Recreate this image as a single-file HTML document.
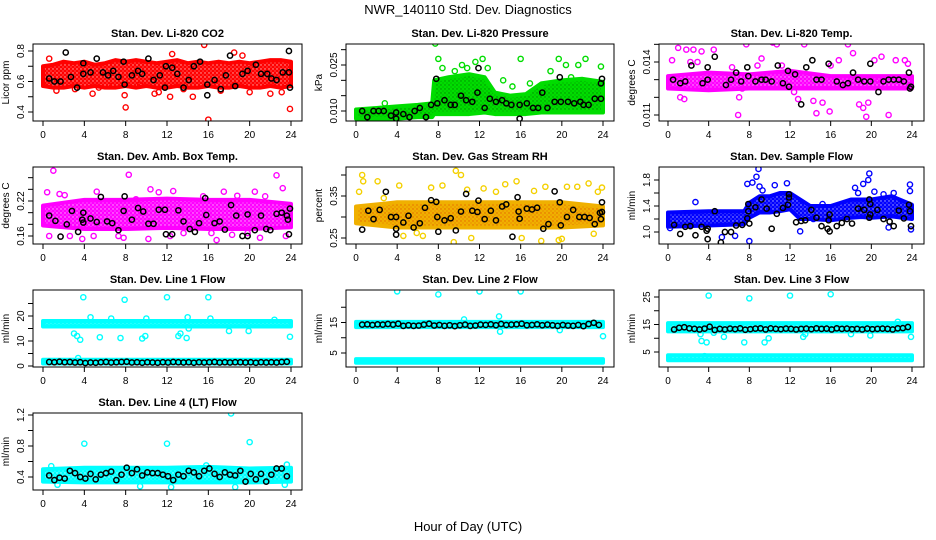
<!DOCTYPE html>
<html><head><meta charset="utf-8"><style>
body{margin:0;background:#fff}
svg{display:block;font-family:"Liberation Sans",sans-serif}
</style></head><body>
<svg id="chart" width="936" height="540" viewBox="0 0 936 540" xmlns="http://www.w3.org/2000/svg">
<rect width="936" height="540" fill="#fff"/>
<text x="468" y="14" font-size="13" text-anchor="middle">NWR_140110  Std. Dev. Diagnostics</text>
<text x="468" y="531" font-size="13" text-anchor="middle">Hour of Day (UTC)</text>
</svg>
<script>
// ---- CO2 ----
const co2BandX=[0,1,2,3,4,5,6,7,8,9,10,11,12,13,14,15,16,17,18,19,20,21,22,23,24];
const co2BandLo=[0.57,0.56,0.56,0.57,0.56,0.57,0.56,0.56,0.57,0.56,0.57,0.56,0.56,0.57,0.56,0.56,0.57,0.56,0.56,0.57,0.56,0.56,0.57,0.56,0.57];
const co2BandHi=[0.70,0.71,0.73,0.72,0.73,0.71,0.72,0.74,0.73,0.74,0.73,0.72,0.73,0.74,0.72,0.73,0.72,0.73,0.72,0.73,0.72,0.73,0.74,0.74,0.73];
const co2PtX=[0.6,1.3,3.1,4.8,5.4,7.9,8.0,9.4,10.8,12.3,12.5,13.6,14.5,15.6,16.0,17.2,18.5,19.3,20.0,22.0,23.1,23.9,11.2,6.7];
const co2PtY=[0.75,0.54,0.55,0.52,0.56,0.51,0.43,0.58,0.52,0.50,0.78,0.55,0.50,0.84,0.35,0.54,0.79,0.77,0.53,0.52,0.53,0.42,0.53,0.57];
const co2BlkX=[0.6,1.1,1.7,2.2,2.7,3.3,3.9,3.9,4.6,5.2,5.8,6.3,6.8,7.3,7.8,7.9,8.6,9.2,9.6,10.2,10.7,11.3,11.8,11.9,12.5,13.0,13.6,14.1,14.6,15.2,15.9,15.9,16.6,17.2,17.7,18.1,18.6,19.3,19.8,20.6,21.1,21.7,22.1,22.6,23.2,23.8,23.8,23.9];
const co2BlkY=[0.62,0.60,0.60,0.79,0.63,0.56,0.72,0.65,0.66,0.75,0.66,0.64,0.67,0.63,0.73,0.58,0.64,0.67,0.65,0.75,0.61,0.64,0.56,0.70,0.69,0.65,0.56,0.61,0.70,0.73,0.58,0.51,0.61,0.55,0.64,0.77,0.57,0.65,0.67,0.71,0.65,0.65,0.62,0.61,0.66,0.80,0.66,0.56];
// ---- Pressure ----
const prsBandX=[0,2,4,6,7.4,7.6,9,11,12.5,13.5,15,16.5,18,20,22,24];
const prsBandLo=[0.0075,0.0075,0.0075,0.008,0.008,0.009,0.009,0.009,0.0095,0.009,0.009,0.009,0.0095,0.0095,0.0095,0.0095];
const prsBandHi=[0.0105,0.011,0.0115,0.012,0.0125,0.02,0.021,0.022,0.021,0.016,0.015,0.0155,0.019,0.02,0.0205,0.0195];
const prsPtX=[2.8,7.7,8.0,8.4,9.6,10.3,10.8,11.6,12.3,12.8,14.3,15.2,16.0,16.9,17.9,19.7,20.4,21.6,22.3,23.8,20.9,18.9];
const prsPtY=[0.0125,0.032,0.027,0.024,0.023,0.025,0.024,0.026,0.027,0.024,0.020,0.018,0.027,0.019,0.018,0.027,0.025,0.025,0.027,0.0245,0.021,0.023];
const prsBlkX=[0.6,1.1,1.7,2.2,2.7,3.4,3.9,3.9,4.6,5.2,5.7,6.2,6.8,7.3,7.8,7.9,8.6,9.2,9.6,10.2,10.7,11.3,11.8,11.9,12.5,13.0,13.6,14.2,14.6,15.1,15.9,15.9,16.6,17.2,17.7,18.1,18.6,19.3,19.8,19.9,20.6,21.2,21.8,22.1,22.6,23.2,23.8,23.8,23.9];
const prsBlkY=[0.010,0.008,0.010,0.010,0.010,0.0085,0.0095,0.0075,0.009,0.008,0.010,0.011,0.008,0.012,0.0205,0.0125,0.0135,0.012,0.012,0.015,0.0135,0.013,0.016,0.024,0.011,0.014,0.013,0.0135,0.0125,0.012,0.012,0.0075,0.0125,0.011,0.011,0.016,0.011,0.013,0.021,0.013,0.013,0.0125,0.013,0.012,0.012,0.014,0.019,0.014,0.0205];
// ---- Li-820 Temp ----
const tmpBandX=[0,4,8,12,16,20,24];
const tmpBandLo=[0.0125,0.0124,0.0125,0.0125,0.0125,0.0125,0.0125];
const tmpBandHi=[0.0132,0.0134,0.0133,0.0135,0.0132,0.0132,0.0132];
const tmpPtX=[0.4,0.7,1.0,1.2,1.6,1.8,2.5,2.2,3.3,3.8,4.5,5.8,6.3,6.9,7.0,7.7,7.3,9.2,10.3,10.7,11.2,12.0,12.4,12.8,13.4,14.3,14.6,15.2,15.9,16.8,17.7,18.2,18.8,19.2,19.5,19.7,20.3,21.0,21.7,22.4,23.3,23.6,2.9,8.8,16.0,20.7];
const tmpPtY=[0.0141,0.0155,0.0148,0.0120,0.0119,0.0147,0.0147,0.0140,0.0146,0.0126,0.0147,0.0157,0.0137,0.0110,0.0120,0.0150,0.0125,0.0142,0.0151,0.0150,0.0138,0.0155,0.0123,0.0119,0.0150,0.0118,0.0111,0.0117,0.0112,0.0141,0.0150,0.0145,0.0116,0.0114,0.0109,0.0117,0.0141,0.0143,0.0110,0.0141,0.0141,0.0139,0.0140,0.0138,0.0138,0.0130];
const tmpBlkX=[0.5,1.2,1.7,2.3,3.4,3.9,3.9,4.6,5.2,5.7,6.2,6.7,7.2,7.8,7.9,8.6,9.2,9.6,10.2,10.8,11.3,11.8,11.9,12.5,13.1,13.6,14.2,14.6,15.1,15.8,16.6,17.2,17.7,18.2,18.7,19.3,19.9,19.9,20.7,21.2,21.7,22.2,22.7,23.2,23.7,23.8,23.9];
const tmpBlkY=[0.0130,0.0128,0.0129,0.0138,0.0128,0.0137,0.0130,0.0143,0.0159,0.0127,0.0130,0.0134,0.0129,0.0137,0.0132,0.0129,0.0130,0.0130,0.0129,0.0138,0.0128,0.0135,0.0126,0.0133,0.0116,0.0137,0.0141,0.0130,0.0130,0.0139,0.0129,0.0127,0.0128,0.0134,0.0130,0.0129,0.0139,0.0129,0.0123,0.0129,0.0130,0.0130,0.0130,0.0129,0.0134,0.0125,0.0126];
// ---- Amb Box Temp ----
const ambBandX=[0,4,8,12,16,20,24];
const ambBandLo=[0.178,0.172,0.172,0.174,0.172,0.172,0.175];
const ambBandHi=[0.212,0.222,0.222,0.224,0.222,0.222,0.215];
const ambPtX=[0.4,1.0,0.6,1.6,2.1,2.6,3.8,4.9,5.2,7.3,7.8,8.3,9.0,10.2,10.4,11.2,12.3,12.6,13.6,15.5,16.3,16.8,17.5,18.3,18.8,19.8,20.5,21.0,21.5,22.6,23.2,23.5];
const ambPtY=[0.235,0.272,0.160,0.232,0.230,0.160,0.155,0.160,0.236,0.160,0.157,0.265,0.223,0.155,0.240,0.235,0.160,0.237,0.165,0.228,0.165,0.153,0.236,0.162,0.229,0.165,0.236,0.157,0.228,0.264,0.242,0.160];
const ambBlkX=[0.6,1.2,1.7,2.3,2.8,3.4,3.8,3.9,3.9,4.6,5.2,5.6,6.2,6.7,7.3,7.8,7.9,8.6,9.2,9.7,10.2,10.7,11.2,11.8,11.9,12.5,13.1,13.6,14.2,14.7,15.1,15.7,15.8,16.6,17.1,17.6,18.2,18.7,19.3,19.8,19.8,20.5,21.1,21.6,22.0,22.6,23.1,23.6,23.7,23.8,23.9];
const ambBlkY=[0.195,0.186,0.159,0.180,0.203,0.167,0.188,0.200,0.183,0.190,0.184,0.227,0.185,0.182,0.170,0.203,0.228,0.188,0.208,0.202,0.181,0.181,0.205,0.205,0.163,0.163,0.204,0.185,0.172,0.167,0.182,0.225,0.196,0.182,0.185,0.171,0.213,0.195,0.160,0.160,0.197,0.170,0.195,0.172,0.170,0.198,0.200,0.195,0.188,0.163,0.207];
// ---- Gas Stream RH ----
const rhBandX=[0,4,8,12,16,20,24];
const rhBandLo=[0.285,0.275,0.275,0.275,0.275,0.275,0.280];
const rhBandHi=[0.325,0.335,0.335,0.335,0.335,0.335,0.325];
const rhPtX=[0.3,0.6,0.7,2.1,4.2,4.6,6.5,7.3,8.4,9.5,9.7,10.2,11.2,12.4,13.6,14.5,15.6,16.1,17.3,18.0,18.4,19.7,20.0,20.5,21.5,22.6,23.1,23.5,23.9,2.7,10.8,5.9];
const rhPtY=[0.360,0.400,0.385,0.385,0.375,0.255,0.255,0.370,0.375,0.240,0.410,0.400,0.250,0.368,0.360,0.378,0.385,0.250,0.362,0.243,0.372,0.245,0.248,0.372,0.372,0.380,0.260,0.360,0.370,0.345,0.365,0.262];
const rhBlkX=[0.6,1.2,1.7,2.3,2.9,3.4,3.9,3.9,3.9,4.6,5.1,5.6,6.2,6.7,7.3,7.8,7.9,8.0,8.6,9.2,9.7,10.2,10.7,11.3,11.8,11.9,12.5,13.1,13.6,14.2,14.6,15.2,15.7,15.8,15.9,16.6,17.1,17.6,18.2,18.7,19.3,19.8,19.9,20.5,21.1,21.7,22.2,22.7,23.2,23.7,23.8,23.9,23.9];
const rhBlkY=[0.270,0.315,0.295,0.317,0.360,0.300,0.272,0.258,0.300,0.287,0.303,0.275,0.285,0.322,0.340,0.336,0.300,0.265,0.292,0.297,0.268,0.313,0.355,0.315,0.312,0.339,0.295,0.315,0.292,0.325,0.330,0.253,0.347,0.313,0.296,0.320,0.318,0.322,0.272,0.283,0.361,0.335,0.280,0.300,0.317,0.300,0.300,0.298,0.283,0.310,0.295,0.335,0.312];
// ---- Sample Flow ----
const sfBandX=[0,4,7.5,8,9,10,11,12,13,14,16,17,18,19,20,22,24];
const sfBandLo=[1.08,1.1,1.12,1.22,1.3,1.3,1.32,1.35,1.2,1.2,1.18,1.2,1.22,1.23,1.22,1.24,1.2];
const sfBandHi=[1.3,1.32,1.32,1.45,1.55,1.55,1.6,1.6,1.5,1.4,1.4,1.45,1.5,1.5,1.5,1.55,1.42];
const sfPtX=[2.7,6.6,8.0,7.8,8.3,8.7,8.9,9.0,9.3,10.5,11.7,13.0,14.3,15.2,18.4,18.7,19.2,19.7,19.8,20.3,21.2,21.7,22.2,23.8,23.8,23.9,0.2,5.3];
const sfPtY=[1.46,0.94,0.86,1.74,1.76,1.85,1.97,1.70,1.64,1.72,1.75,1.01,1.2,1.43,1.68,1.6,1.74,1.80,1.90,1.62,1.58,1.07,1.60,1.73,1.63,1.04,1.06,0.92];
const sfBlkX=[0.6,1.2,1.7,2.2,2.7,3.3,3.8,3.9,3.9,4.6,5.2,5.6,6.2,6.7,7.3,7.8,7.9,7.9,8.0,8.6,9.2,9.7,10.2,10.7,11.3,11.8,11.9,11.9,12.6,13.1,13.5,14.1,14.6,15.1,15.7,15.8,15.9,15.9,16.6,17.1,17.6,18.1,18.7,19.3,19.8,19.9,19.9,19.8,20.6,21.2,21.8,22.2,22.7,23.2,23.7,23.8,23.9];
const sfBlkY=[1.11,0.97,1.08,1.09,0.95,1.08,1.02,0.89,1.05,1.32,0.84,1.00,1.00,1.10,1.11,1.21,1.43,1.32,1.13,1.38,1.50,1.36,1.05,1.28,1.37,1.42,1.58,1.53,1.15,1.17,1.18,1.34,1.22,1.09,1.05,1.18,1.27,1.01,1.09,1.14,1.20,1.13,1.36,1.34,1.50,1.43,1.27,1.22,1.34,1.20,1.16,1.09,1.33,1.21,1.42,1.32,1.09];
// ---- Line flows ----
const l1BandX=[0,24], l1BandLo=[15.8,15.8], l1BandHi=[18,18], l1Band2Lo=[1,1], l1Band2Hi=[2.5,2.5];
const l1PtX=[3.9,4.6,7.9,12.0,16.0,3.0,3.3,3.6,5.5,7.5,9.6,9.9,13.1,13.3,13.9,14.1,18.0,19.9,23.9,6.6,10.0,14.0,16.2,22.4,3.4];
const l1PtY=[27.5,19.5,26.5,27.5,27.5,13,12,10.5,11.5,11.2,11,12,12,13,11.2,15,14,14,11.7,19,19,19.5,19,18.5,3.2];
const l1BlkX=[0.6,1.1,1.6,2.1,2.6,3.1,3.6,4.1,4.6,5.1,5.6,6.1,6.6,7.1,7.6,8.1,8.6,9.1,9.6,10.1,10.6,11.1,11.6,12.1,12.6,13.1,13.6,14.1,14.6,15.1,15.6,16.1,16.6,17.1,17.6,18.1,18.6,19.1,19.6,20.1,20.6,21.1,21.6,22.1,22.6,23.1,23.6];
const l1BlkY=[1.6,1.5,1.7,1.5,1.6,1.4,1.5,1.2,1.4,1.3,1.5,1.6,1.4,1.5,1.6,1.7,1.4,1.5,1.3,1.5,1.4,1.3,1.5,1.4,1.6,1.5,1.4,1.5,1.3,1.5,1.4,1.5,1.6,1.4,1.5,1.4,1.5,1.5,1.4,1.5,1.3,1.5,1.4,1.5,1.4,1.6,1.7];
const l2BandX=[0,24], l2BandLo=[13.5,13.5], l2BandHi=[15.2,15.2], l2Band2Lo=[1.8,1.8], l2Band2Hi=[3.0,3.0];
const l2PtX=[4.0,8.0,12.0,16.0,10.5,13.9,14.0,19.8,24.0];
const l2PtY=[25.2,24.2,25.2,25.2,16,17,12,12.5,10.5];
const l2BlkY=[14.3,14.4,14.2,14.4,14.3,14.5,14.3,14.6,13.9,14.1,13.9,14.0,14.3,14.6,14.0,14.2,13.9,14.1,13.8,14.1,14.3,13.9,14.0,14.3,14.2,14.4,14.1,14.5,14.2,14.3,14.4,14.6,14.1,14.2,14.4,14.1,14.3,14.1,13.9,14.2,14.0,13.9,14.2,13.8,14.5,14.9,14.2];
const l3BandX=[0,24], l3BandLo=[12.5,12.5], l3BandHi=[15.5,15.5], l3Band2Lo=[2.0,2.0], l3Band2Hi=[3.8,3.8];
const l3PtX=[4.0,8.0,12.0,16.0,3.2,3.3,3.8,5.5,7.5,9.5,9.9,13.3,13.5,18.0,19.9,22.6,23.9,3.6,4.5];
const l3PtY=[25.5,24.5,25.5,26,11.5,9,8.5,10.5,8.5,8.5,10,10.5,11.5,11.5,11,16,10.5,3.5,12];
const l3BlkY=[13.2,13.8,14.0,13.6,13.4,13.2,13.5,14.2,13.0,13.4,13.2,13.5,13.3,13.6,13.1,13.3,13.5,13.6,13.2,13.6,13.4,13.3,13.5,13.4,13.2,13.4,13.5,13.3,13.6,13.4,13.5,13.2,13.6,13.4,13.5,13.3,13.4,13.2,13.5,13.3,13.4,13.5,13.4,13.2,13.6,13.7,14.1];
const l4BandX=[0,4,8,12,16,20,24], l4BandLo=[0.34,0.33,0.33,0.33,0.33,0.33,0.34], l4BandHi=[0.50,0.52,0.52,0.52,0.53,0.51,0.52];
const l4PtX=[4.0,12.0,18.2,20.0,18.6,12.4,9.4,1.4,23.4,15.8,23.6,0.8];
const l4PtY=[0.83,0.83,1.22,0.85,0.27,0.27,0.28,0.30,0.30,0.55,0.56,0.54];
const l4BlkY=[0.42,0.36,0.39,0.38,0.48,0.45,0.40,0.38,0.44,0.37,0.43,0.45,0.47,0.36,0.43,0.52,0.45,0.50,0.42,0.46,0.45,0.45,0.43,0.41,0.36,0.43,0.41,0.48,0.46,0.41,0.48,0.51,0.44,0.40,0.46,0.43,0.42,0.48,0.34,0.44,0.37,0.44,0.34,0.43,0.51,0.51,0.41];
const xTicks=[0,4,8,12,16,20,24];

const NS='http://www.w3.org/2000/svg';
const svg=document.getElementById('chart');
function mk(tag,attrs,parent){const e=document.createElementNS(NS,tag);for(const k in attrs)e.setAttribute(k,attrs[k]);(parent||svg).appendChild(e);return e;}
const defs=mk('defs',{});
const cols=[{l:33,r:302,x0:43,x24:291},{l:346,r:614,x0:356,x24:603},{l:659,r:924,x0:668,x24:912}];
const rows=[44,167,290,413];
const panels=[
 {id:'co2',title:'Stan. Dev. Li-820 CO2',yl:'Licor ppm',r:0,c:0,v0:0.4,p0:112,v1:0.8,p1:51,ticks:[0.4,0.5,0.6,0.7,0.8],labels:['0.4','0.6','0.8'],col:'#ff0000',dot:'#ffffff',bx:co2BandX,lo:co2BandLo,hi:co2BandHi,px:co2PtX,py:co2PtY,kx:co2BlkX,ky:co2BlkY},
 {id:'pressure',title:'Stan. Dev. Li-820 Pressure',yl:'kPa',r:0,c:1,v0:0.010,p0:111,v1:0.025,p1:65,ticks:[0.010,0.015,0.020,0.025,0.030],labels:['0.010','0.025'],col:'#00dd00',dot:'#006600',bx:prsBandX,lo:prsBandLo,hi:prsBandHi,px:prsPtX,py:prsPtY,kx:prsBlkX,ky:prsBlkY},
 {id:'li820-temp',title:'Stan. Dev. Li-820 Temp.',yl:'degrees C',r:0,c:2,v0:0.011,p0:115,v1:0.014,p1:62,ticks:[0.011,0.012,0.013,0.014,0.015],labels:['0.011','0.014'],col:'#ff00ff',dot:'#ffffff',bx:tmpBandX,lo:tmpBandLo,hi:tmpBandHi,px:tmpPtX,py:tmpPtY,kx:tmpBlkX,ky:tmpBlkY},
 {id:'amb-temp',title:'Stan. Dev. Amb. Box Temp.',yl:'degrees C',r:1,c:0,v0:0.16,p0:236,v1:0.22,p1:201,ticks:[0.16,0.18,0.20,0.22,0.24,0.26],labels:['0.16','0.22'],col:'#ff00ff',dot:'#ffffff',bx:ambBandX,lo:ambBandLo,hi:ambBandHi,px:ambPtX,py:ambPtY,kx:ambBlkX,ky:ambBlkY},
 {id:'gas-rh',title:'Stan. Dev. Gas Stream RH',yl:'percent',r:1,c:1,v0:0.25,p0:238,v1:0.35,p1:196,ticks:[0.25,0.30,0.35,0.40],labels:['0.25','0.35'],col:'#f0b000',dot:'#e04000',pcol:'#f4d000',bx:rhBandX,lo:rhBandLo,hi:rhBandHi,px:rhPtX,py:rhPtY,kx:rhBlkX,ky:rhBlkY},
 {id:'sample-flow',title:'Stan. Dev. Sample Flow',yl:'ml/min',r:1,c:2,v0:1.0,p0:232,v1:1.8,p1:180,ticks:[1.0,1.2,1.4,1.6,1.8],labels:['1.0','1.4','1.8'],col:'#0000ff',dot:'#ffffff',bx:sfBandX,lo:sfBandLo,hi:sfBandHi,px:sfPtX,py:sfPtY,kx:sfBlkX,ky:sfBlkY},
 {id:'line1',title:'Stan. Dev. Line 1 Flow',yl:'ml/min',r:2,c:0,v0:0,p0:366,v1:20,p1:316,ticks:[0,5,10,15,20,25],labels:['0','10','20'],col:'#00ffff',dot:'#ffffff',bx:l1BandX,lo:l1BandLo,hi:l1BandHi,lo2:l1Band2Lo,hi2:l1Band2Hi,px:l1PtX,py:l1PtY,kx:l1BlkX,ky:l1BlkY},
 {id:'line2',title:'Stan. Dev. Line 2 Flow',yl:'ml/min',r:2,c:1,v0:5,p0:353,v1:15,p1:322.5,ticks:[5,10,15,20],labels:['5','15'],col:'#00ffff',dot:'#ffffff',bx:l2BandX,lo:l2BandLo,hi:l2BandHi,lo2:l2Band2Lo,hi2:l2Band2Hi,px:l2PtX,py:l2PtY,kx:l1BlkX,ky:l2BlkY},
 {id:'line3',title:'Stan. Dev. Line 3 Flow',yl:'ml/min',r:2,c:2,v0:5,p0:352,v1:25,p1:297,ticks:[5,10,15,20,25],labels:['5','15','25'],col:'#00ffff',dot:'#ffffff',bx:l3BandX,lo:l3BandLo,hi:l3BandHi,lo2:l3Band2Lo,hi2:l3Band2Hi,px:l3PtX,py:l3PtY,kx:l1BlkX,ky:l3BlkY},
 {id:'line4',title:'Stan. Dev. Line 4 (LT) Flow',yl:'ml/min',r:3,c:0,v0:0.4,p0:477,v1:1.2,p1:415,ticks:[0.4,0.6,0.8,1.0,1.2],labels:['0.4','0.8','1.2'],col:'#00ffff',dot:'#ffffff',bx:l4BandX,lo:l4BandLo,hi:l4BandHi,px:l4PtX,py:l4PtY,kx:l1BlkX,ky:l4BlkY}
];
panels.forEach(p=>{
  const pat=mk('pattern',{id:'pt-'+p.id,width:4,height:4,patternUnits:'userSpaceOnUse'},defs);
  mk('rect',{width:4,height:4,fill:p.col},pat);
  mk('circle',{cx:1,cy:1,r:0.7,fill:p.dot,'fill-opacity':'0.7'},pat);
  mk('circle',{cx:3,cy:3,r:0.6,fill:p.dot,'fill-opacity':'0.5'},pat);
  const C=cols[p.c], top=rows[p.r], bot=top+77;
  const xs=v=>C.x0+(v/24)*(C.x24-C.x0);
  const ys=v=>p.p0+(v-p.v0)*(p.p1-p.p0)/(p.v1-p.v0);
  const g=mk('g',{});
  
  
  const t=mk('text',{x:(C.l+C.r)/2,y:top-7,'font-size':'11','font-weight':'bold','text-anchor':'middle'},g);
  t.textContent=p.title;
  
  
  const clip=mk('clipPath',{id:'cl-'+p.id},g);
  mk('rect',{x:C.l,y:top,width:C.r-C.l,height:bot-top},clip);
  const pg=mk('g',{'clip-path':'url(#cl-'+p.id+')'},g);
  const bands=[[p.lo,p.hi]]; if(p.lo2) bands.push([p.lo2,p.hi2]);
  bands.forEach(([lo,hi])=>{
    let pts=p.bx.map((x,i)=>xs(x)+','+ys(hi[i]));
    pts=pts.concat(p.bx.map((x,i)=>xs(x)+','+ys(lo[i])).reverse());
    const b=mk('polygon',{points:pts.join(' '),fill:'url(#pt-'+p.id+')',stroke:p.col,'stroke-width':'4','stroke-linejoin':'round'},pg);
    
    
  });
  p.px.forEach((x,i)=>{
    const c=mk('circle',{cx:xs(x),cy:ys(p.py[i]),r:2.6,fill:'none',stroke:p.pcol||p.col,'stroke-width':'1.4'},pg);
    
    
  });
  p.kx.forEach((x,i)=>{
    const c=mk('circle',{cx:xs(x),cy:ys(p.ky[i]),r:2.6,fill:'none',stroke:'#000','stroke-width':'1.5'},pg);
    
    
  });
  const fr=mk('rect',{x:C.l,y:top,width:C.r-C.l,height:bot-top,fill:'none',stroke:'#000','stroke-width':'1'},g);
  
  
  xTicks.forEach(v=>{
    const x=xs(v);
    mk('line',{x1:x,x2:x,y1:bot,y2:bot+5,stroke:'#000'},g);
    const l=mk('text',{x:x,y:bot+17,'font-size':'10','text-anchor':'middle'},g);
    l.textContent=v;
    
    
  });
  p.ticks.forEach(v=>{
    const y=ys(v);
    mk('line',{x1:C.l-5,x2:C.l,y1:y,y2:y,stroke:'#000'},g);
    const lab=p.labels.find(s=>Math.abs(parseFloat(s)-v)<1e-9);
    if(lab){
      const l=mk('text',{x:C.l-9,y:y,'font-size':'10','text-anchor':'middle',transform:'rotate(-90 '+(C.l-9)+' '+y+')'},g);
      l.textContent=lab;
      
      
    }
  });
  const yl=mk('text',{x:C.l-24,y:(top+bot)/2,'font-size':'10','text-anchor':'middle',transform:'rotate(-90 '+(C.l-24)+' '+(top+bot)/2+')'},g);
  yl.textContent=p.yl;
  
  
});
</script>
</body></html>
